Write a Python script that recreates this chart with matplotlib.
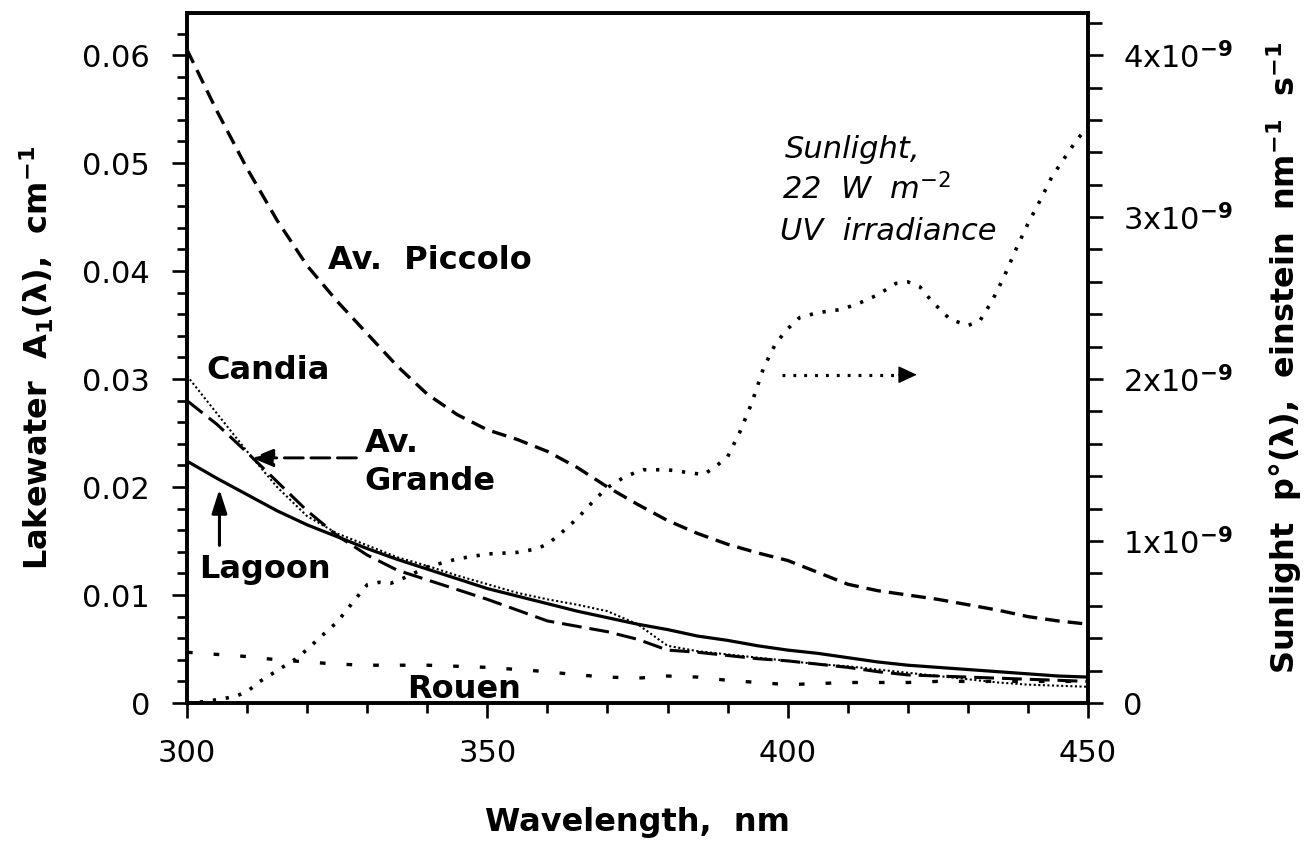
import matplotlib
matplotlib.use("Agg")
import matplotlib.pyplot as plt
from matplotlib.ticker import MultipleLocator, FuncFormatter

plt.rcParams['font.family'] = ['DejaVu Sans']
plt.rcParams['mathtext.fontset'] = 'dejavusans'
plt.rcParams['mathtext.default'] = 'regular'

# ---------------- data ----------------
wavelength = [300, 305, 310, 315, 320, 325, 330, 335, 340, 345, 350, 355, 360, 365,
              370, 375, 380, 385, 390, 395, 400, 405, 410, 415, 420, 425, 430, 435,
              440, 445, 450]

av_piccolo = [0.0605, 0.0548, 0.0495, 0.0447, 0.0405, 0.0372, 0.0342, 0.0312, 0.0286,
              0.0267, 0.0253, 0.0244, 0.0233, 0.0218, 0.0200, 0.0184, 0.0169, 0.0157,
              0.0147, 0.0139, 0.0132, 0.0121, 0.0110, 0.0104, 0.0100, 0.0096, 0.0091,
              0.0086, 0.0080, 0.0076, 0.0073]

candia = [0.0303, 0.0268, 0.0233, 0.0200, 0.0173, 0.0157, 0.0146, 0.0135, 0.0127,
          0.0118, 0.0110, 0.0102, 0.0096, 0.0091, 0.0085, 0.0073, 0.0053, 0.0048,
          0.0045, 0.0042, 0.0039, 0.0036, 0.0034, 0.0031, 0.0028, 0.0025, 0.0022,
          0.0019, 0.0017, 0.0016, 0.0015]

av_grande = [0.0280, 0.0258, 0.0232, 0.0205, 0.0178, 0.0155, 0.0137, 0.0123, 0.0114,
             0.0105, 0.0096, 0.0086, 0.0076, 0.0071, 0.0066, 0.0059, 0.0049, 0.0047,
             0.0044, 0.0041, 0.0039, 0.0036, 0.0033, 0.0029, 0.0026, 0.0025, 0.0024,
             0.0023, 0.0022, 0.0021, 0.0020]

lagoon = [0.0224, 0.0208, 0.0193, 0.0178, 0.0165, 0.0154, 0.0143, 0.0133, 0.0124,
          0.0115, 0.0106, 0.0099, 0.0092, 0.0085, 0.0079, 0.0073, 0.0068, 0.0062,
          0.0058, 0.0053, 0.0049, 0.0046, 0.0042, 0.0038, 0.0035, 0.0033, 0.0031,
          0.0029, 0.0027, 0.0025, 0.0024]

rouen = [0.0047, 0.0045, 0.0043, 0.0040, 0.0038, 0.0036, 0.0035, 0.0035, 0.0035,
         0.0034, 0.0033, 0.0031, 0.0029, 0.0026, 0.0024, 0.0023, 0.0025, 0.0024,
         0.0021, 0.0019, 0.0017, 0.0018, 0.0019, 0.0019, 0.0019, 0.0020, 0.0020,
         0.0020, 0.0020, 0.0020, 0.0020]

sun_wavelength = [300, 302, 305, 308, 310, 312, 315, 318, 320, 322, 325, 328, 330, 332,
                  334, 336, 340, 345, 350, 355, 358, 360, 362, 365, 368, 370, 373, 376,
                  380, 384, 386, 388, 390, 392, 394, 396, 398, 400, 402, 405, 409, 412,
                  415, 418, 420, 422, 424, 427, 430, 432, 434, 436, 438, 440, 442, 444,
                  446, 448, 450]
# sunlight photon irradiance, units of 1e-9 einstein nm^-1 s^-1
sunlight = [0.00, 0.005, 0.02, 0.04, 0.07, 0.13, 0.20, 0.27, 0.33, 0.40, 0.50, 0.64,
            0.73, 0.745, 0.74, 0.77, 0.84, 0.89, 0.92, 0.93, 0.95, 0.98, 1.04, 1.14,
            1.26, 1.33, 1.40, 1.44, 1.44, 1.42, 1.41, 1.46, 1.52, 1.67, 1.85, 2.07,
            2.22, 2.31, 2.38, 2.41, 2.43, 2.47, 2.52, 2.59, 2.60, 2.57, 2.48, 2.37,
            2.33, 2.36, 2.48, 2.63, 2.80, 2.96, 3.10, 3.25, 3.36, 3.47, 3.56]

x_ticks = [300, 350, 400, 450]
left_ticks = [0, 0.01, 0.02, 0.03, 0.04, 0.05, 0.06]
right_ticks = [0, 1e-9, 2e-9, 3e-9, 4e-9]

# ---------------- figure ----------------
DPI = 100
fig = plt.figure(figsize=(13.13, 8.46), dpi=DPI)
ax = fig.add_axes([187 / 1313, 1 - 703 / 846, (1088 - 187) / 1313, (703 - 13) / 846])
ax2 = ax.twinx()

LEFT_TOP = 0.0639
ax.set_xlim(300, 450)
ax.set_ylim(0, LEFT_TOP)
ax2.set_ylim(0, LEFT_TOP / 0.015 * 1e-9)

ax.plot(wavelength, av_piccolo, color='k', lw=2.4, ls=(0, (4.4, 2.4)))
ax.plot(wavelength, candia, color='k', lw=1.5, ls=(0, (1, 1.2)))
ax.plot(wavelength, av_grande, color='k', lw=2.2, ls=(0, (6.5, 2.6)))
ax.plot(wavelength, lagoon, color='k', lw=2.3, ls='-')
ax.plot(wavelength, rouen, color='k', lw=2.4, ls=(0, (1.7, 6.3)))
ax2.plot(sun_wavelength, [v * 1e-9 for v in sunlight], color='k', lw=2.6,
         ls=(0, (0.9, 2.7)))

# ---------------- axes styling ----------------
for a in (ax, ax2):
    for s in a.spines.values():
        s.set_linewidth(2.6)

ax.set_xticks(x_ticks)
ax.xaxis.set_minor_locator(MultipleLocator(10))
ax.set_yticks(left_ticks)
ax.yaxis.set_minor_locator(MultipleLocator(0.002))
ax.xaxis.set_major_formatter(FuncFormatter(lambda v, p: f'{v:.0f}'))
ax.yaxis.set_major_formatter(FuncFormatter(lambda v, p: '0' if abs(v) < 1e-12 else f'{v:.2f}'))

ax2.set_yticks(right_ticks)
ax2.yaxis.set_minor_locator(MultipleLocator(0.2e-9))
ax2.yaxis.set_major_formatter(FuncFormatter(
    lambda v, p: '0' if abs(v) < 1e-20 else f'{v * 1e9:.0f}x10$^{{\\mathbf{{-9}}}}$'))

ax.tick_params(axis='x', which='major', direction='out', length=11, width=1.9,
               labelsize=22, pad=15, top=False)
ax.tick_params(axis='x', which='minor', direction='out', length=7.5, width=1.9, top=False)
ax.tick_params(axis='y', which='major', direction='out', length=10.5, width=1.9,
               labelsize=22, pad=16, right=False)
ax.tick_params(axis='y', which='minor', direction='out', length=7.5, width=1.9, right=False)
ax2.tick_params(axis='y', which='major', direction='out', length=10.5, width=1.9,
                labelsize=22, pad=15)
ax2.tick_params(axis='y', which='minor', direction='out', length=10, width=1.9)

ax.set_xlabel('Wavelength,  nm', fontsize=23, fontweight='bold')
ax.xaxis.set_label_coords(0.5, -0.150)
ax.set_ylabel(r'Lakewater  A$_{\mathbf{1}}$(λ),  cm$^{\mathbf{-1}}$', fontsize=23,
              fontweight='bold')
ax.yaxis.set_label_coords(-0.145, 0.5)
ax2.set_ylabel(r'Sunlight  p°(λ),  einstein  nm$^{\mathbf{-1}}$  s$^{\mathbf{-1}}$',
               fontsize=23, fontweight='bold', rotation=90)
ax2.yaxis.set_label_coords(1.196, 0.5)

# ---------------- annotations ----------------
lab = dict(fontsize=23, fontweight='bold', color='k', va='baseline', ha='left')
ax.text(323.5, 0.0402, 'Av.  Piccolo', **lab)
ax.text(303.3, 0.0300, 'Candia', **lab)
ax.text(329.6, 0.0232, 'Av.', **lab)
ax.text(329.6, 0.0197, 'Grande', **lab)
ax.text(302.1, 0.0116, 'Lagoon', **lab)
ax.text(336.6, 0.0005, 'Rouen', **lab)

sun = dict(fontsize=22, fontstyle='italic', color='k', va='baseline', ha='left')
ax.text(399.6, 0.0505, 'Sunlight,', **sun)
ax.text(399.0, 0.0466, r'22  W  m$^{\mathit{-2}}$', **sun)
ax.text(398.7, 0.0429, 'UV  irradiance', **sun)

# Av. Grande pointer (long dashes)
ax.annotate('', xy=(310.8, 0.0227), xytext=(328.2, 0.0227),
            arrowprops=dict(arrowstyle='-|>,head_length=0.65,head_width=0.27',
                            mutation_scale=20, lw=2.1, ls=(0, (6.5, 2.6)), color='k',
                            shrinkA=0, shrinkB=0))
# Lagoon pointer (solid)
ax.annotate('', xy=(305.4, 0.0198), xytext=(305.4, 0.0146),
            arrowprops=dict(arrowstyle='-|>,head_length=0.72,head_width=0.23',
                            mutation_scale=20, lw=2.2, color='k',
                            shrinkA=0, shrinkB=0))
# Sunlight pointer (dotted) toward right axis
ax.plot([399.0, 419.0], [0.0304, 0.0304], color='k', lw=2.3, ls=(0, (0.9, 2.5)))
ax.annotate('', xy=(421.5, 0.0304), xytext=(418.5, 0.0304),
            arrowprops=dict(arrowstyle='-|>,head_length=0.58,head_width=0.27',
                            mutation_scale=20, lw=1.0, color='k',
                            shrinkA=0, shrinkB=0))

fig.savefig('out.png', dpi=DPI)
